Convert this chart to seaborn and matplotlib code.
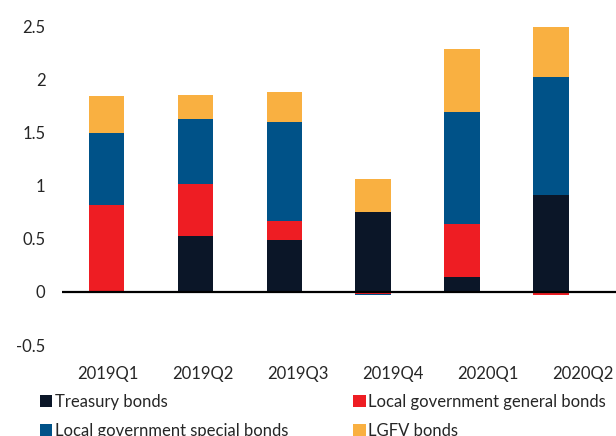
import numpy as np
import pandas as pd
import matplotlib
matplotlib.use("Agg")
import matplotlib.pyplot as plt
import seaborn as sns

quarters = ["2019Q1", "2019Q2", "2019Q3", "2019Q4", "2020Q1", "2020Q2"]
treasury = [0.0, 0.53, 0.49, 0.75, 0.14, 0.915]
local_general = [0.82, 0.49, 0.18, -0.02, 0.50, -0.03]
local_special = [0.68, 0.61, 0.93, -0.01, 1.06, 1.11]
lgfv = [0.35, 0.23, 0.28, 0.31, 0.59, 0.47]

series_names = ["Treasury bonds", "Local government general bonds",
                "Local government special bonds", "LGFV bonds"]
series_vals = [treasury, local_general, local_special, lgfv]
colors = ["#0B1628", "#EE1D23", "#005288", "#F9B041"]

sns.set_style("white")
plt.rcParams["font.family"] = ["Lato", "DejaVu Sans"]

fig = plt.figure(figsize=(6.16, 4.36), dpi=100)
ax = fig.add_axes([62 / 616, 1 - 345 / 436, 1 - 62 / 616, (345 - 16) / 436])

pos_base = np.zeros(len(quarters))
neg_base = np.zeros(len(quarters))
for name, vals, col in zip(series_names, series_vals, colors):
    v = np.array(vals, dtype=float)
    bottom = np.where(v >= 0, pos_base, neg_base)
    df = pd.DataFrame({"quarter": quarters, "value": v})
    sns.barplot(data=df, x="quarter", y="value", order=quarters, color=col,
                width=0.4, bottom=bottom, ax=ax, label=name, saturation=1,
                linewidth=0)
    pos_base = pos_base + np.where(v >= 0, v, 0)
    neg_base = neg_base + np.where(v < 0, v, 0)

ax.axhline(0, color="black", lw=1.6, zorder=5)
ax.set_xlim(-0.5, 5.73)
ax.set_ylim(-0.5, 2.6)
ax.set_yticks([-0.5, 0, 0.5, 1, 1.5, 2, 2.5])
ax.set_yticklabels(["-0.5", "0", "0.5", "1", "1.5", "2", "2.5"])
# category labels in the reference sit on a slightly wider pitch than the bars
ax.set_xticks(np.arange(len(quarters)) * 95 / 89 + 0.02)
ax.set_xticklabels(quarters)
ax.set_xlabel("")
ax.set_ylabel("")
for s in ax.spines.values():
    s.set_visible(False)
ax.tick_params(axis="y", length=0, pad=12, labelsize=12)
ax.tick_params(axis="x", length=0, pad=15, labelsize=12)

if ax.get_legend() is not None:
    ax.get_legend().remove()
handles, labels = ax.get_legend_handles_labels()
order = [0, 2, 1, 3]
fig.legend([handles[i] for i in order], [labels[i] for i in order],
           loc="upper left", bbox_to_anchor=(40 / 616, 1 - 394 / 436), ncol=2,
           frameon=False, fontsize=12, handlelength=0.75, handleheight=0.75,
           handletextpad=0.15, columnspacing=3.9, labelspacing=0.8,
           borderaxespad=0, borderpad=0)

fig.savefig("out.png", dpi=100)
